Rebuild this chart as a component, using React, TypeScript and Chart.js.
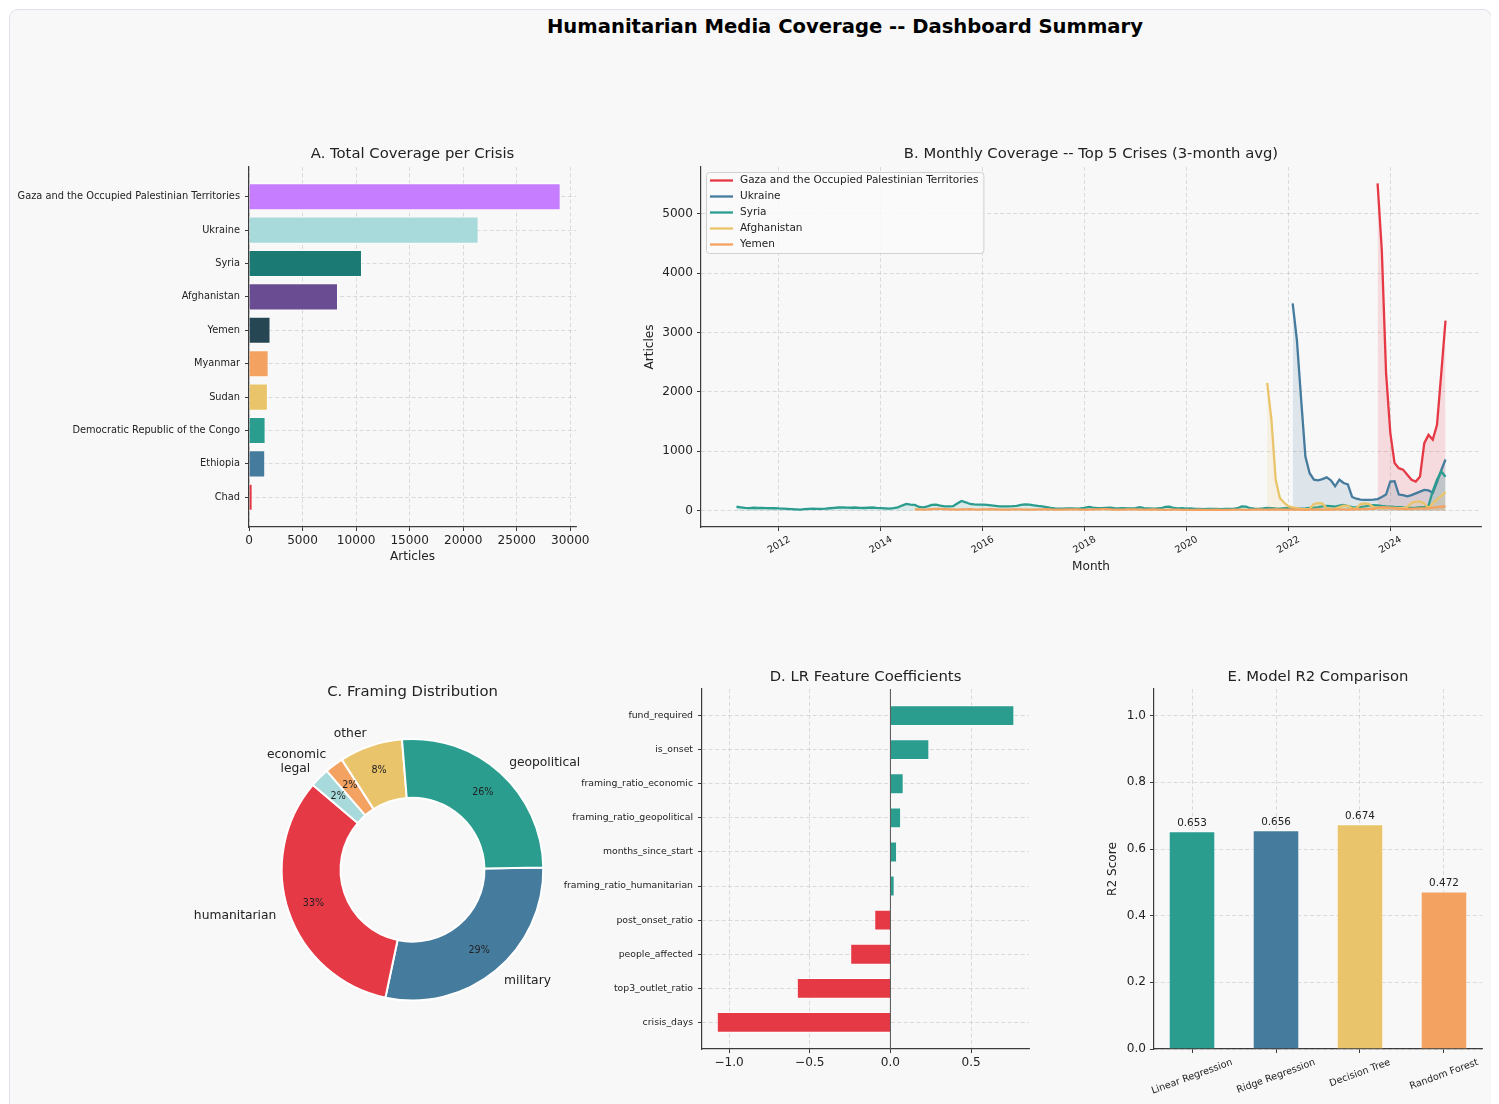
import React, { useEffect, useRef } from "react";
import { Chart, registerables } from "chart.js";

Chart.register(...registerables);

const FONT = "'DejaVu Sans', 'Liberation Sans', sans-serif";
const SPINE = "#3c3c3c";
const GRID = "rgba(165,165,165,0.45)";
const TXT = "#222222";
const BG = "#f8f8f8";

Chart.defaults.font.family = FONT;
Chart.defaults.color = TXT;

// ---------------- Panel A: total coverage per crisis ----------------
const crisisNames = [
  "Gaza and the Occupied Palestinian Territories",
  "Ukraine",
  "Syria",
  "Afghanistan",
  "Yemen",
  "Myanmar",
  "Sudan",
  "Democratic Republic of the Congo",
  "Ethiopia",
  "Chad",
];
const crisisTotals = [29080, 21420, 10530, 8290, 1990, 1815, 1745, 1530, 1495, 320];
const crisisColors = [
  "#c77dff", "#a8dadc", "#1b7a73", "#6a4c93", "#264653",
  "#f4a261", "#e9c46a", "#2a9d8f", "#457b9d", "#e63946",
];
const coverageTicks = [0, 5000, 10000, 15000, 20000, 25000, 30000];

// ---------------- Panel B: monthly coverage (3-month avg) ----------------
const seriesNames = ["Gaza and the Occupied Palestinian Territories", "Ukraine", "Syria", "Afghanistan", "Yemen"];
const seriesColors = ["#e63946", "#457b9d", "#2a9d8f", "#e9c46a", "#f4a261"];
const seriesFills = [
  "rgba(230,57,70,0.15)", "rgba(69,123,157,0.15)", "rgba(42,157,143,0.15)",
  "rgba(233,196,106,0.15)", "rgba(244,162,97,0.15)",
];
// first month of each series: [year, month]
const seriesStarts: [number, number][] = [[2023, 10], [2022, 2], [2011, 3], [2021, 8], [2014, 9]];
const gazaMonthly = [5510, 4380, 2320, 1310, 800, 715, 690, 605, 520, 490, 575, 1135, 1275, 1195, 1445, 2310, 3200];
const ukraineMonthly = [
  3490, 2870, 1870, 910, 630, 520, 510, 530, 560, 510, 410,
  520, 465, 440, 230, 200, 185, 180, 180, 185, 195, 230, 270,
  490, 495, 270, 260, 240, 260, 290, 320, 350, 340, 300, 480,
  680, 860,
];
const syriaMonthly = [
  65, 55, 45, 42, 48, 44, 46, 42, 40, 43,
  36, 34, 30, 26, 22, 18, 24, 30, 34, 30, 28, 32,
  40, 46, 52, 56, 50, 48, 52, 46, 44, 48, 52, 46,
  42, 38, 34, 40, 55, 85, 112, 100, 95, 62, 55, 70,
  95, 100, 85, 73, 70, 75, 120, 163, 140, 112, 105, 100,
  100, 95, 88, 80, 73, 70, 73, 75, 80, 95, 106, 100,
  90, 80, 73, 60, 45, 38, 34, 34, 36, 38, 34, 36,
  45, 62, 50, 42, 40, 44, 48, 40, 38, 42, 38, 36,
  40, 58, 42, 38, 34, 36, 40, 62, 66, 44, 38, 40,
  34, 36, 30, 28, 26, 28, 30, 28, 26, 30, 28, 30,
  40, 72, 66, 40, 34, 30, 36, 44, 40, 36, 34, 42,
  46, 40, 36, 34, 38, 46, 52, 60, 72, 80, 74, 66,
  84, 96, 76, 60, 54, 62, 72, 84, 92, 86, 78, 72,
  68, 62, 58, 54, 50, 46, 52, 60, 62, 80, 330, 520,
  660, 570,
];
const afghanistanMonthly = [
  2150, 1530, 520, 210, 130,
  75, 55, 40, 30, 25, 30, 110, 125, 120, 40, 30, 35,
  60, 85, 80, 35, 40, 110, 120, 110, 60, 50, 40, 45,
  50, 45, 40, 45, 60, 130, 150, 150, 120, 45, 120, 190,
  250, 310,
];
const yemenMonthly = [
  20, 22, 18, 20,
  25, 28, 30, 26, 22, 20, 18, 20, 22, 24, 20, 18,
  20, 22, 24, 22, 18, 16, 18, 20, 22, 20, 18, 16,
  18, 20, 22, 24, 20, 18, 16, 18, 20, 22, 20, 18,
  16, 18, 20, 22, 24, 26, 22, 18, 16, 18, 20, 22,
  20, 18, 16, 18, 20, 18, 16, 14, 16, 18, 16, 14,
  14, 12, 14, 16, 14, 12, 14, 16, 14, 12, 14, 16,
  18, 16, 14, 16, 18, 20, 18, 16, 18, 20, 18, 16,
  18, 20, 18, 16, 14, 16, 18, 20, 18, 16, 18, 20,
  22, 20, 18, 20, 22, 24, 26, 28, 30, 45, 60, 55,
  45, 38, 32, 28, 26, 30, 34, 38, 36, 40, 50, 60,
  65, 70,
];
const seriesValues = [gazaMonthly, ukraineMonthly, syriaMonthly, afghanistanMonthly, yemenMonthly];
const yearTicks = [2012, 2014, 2016, 2018, 2020, 2022, 2024];
const monthlyTicks = [0, 1000, 2000, 3000, 4000, 5000];

// ---------------- Panel C: framing distribution ----------------
const framingLabels = ["military", "humanitarian", "legal", "economic", "other", "geopolitical"];
const framingShares = [28.6, 32.9, 2.4, 2.3, 7.8, 26.0];
const framingColors = ["#457b9d", "#e63946", "#a8dadc", "#f4a261", "#e9c46a", "#2a9d8f"];

// ---------------- Panel D: LR feature coefficients ----------------
const featureNames = [
  "fund_required", "is_onset", "framing_ratio_economic", "framing_ratio_geopolitical",
  "months_since_start", "framing_ratio_humanitarian", "post_onset_ratio", "people_affected",
  "top3_outlet_ratio", "crisis_days",
];
const featureCoefs = [0.767, 0.240, 0.081, 0.065, 0.040, 0.025, -0.099, -0.248, -0.579, -1.075];
const coefTicks = [-1.0, -0.5, 0.0, 0.5];

// ---------------- Panel E: model R2 ----------------
const modelNames = ["Linear Regression", "Ridge Regression", "Decision Tree", "Random Forest"];
const modelR2 = [0.653, 0.656, 0.674, 0.472];
const modelColors = ["#2a9d8f", "#457b9d", "#e9c46a", "#f4a261"];
const r2Ticks = [0, 0.2, 0.4, 0.6, 0.8, 1.0];

// font sizes
const F_TITLE = 14.8;
const F_MAIN = 19.6;
const F_TICK = 12.1;
const F_AXIS = 12.1;
const F_SMALL = 9.3;

// ---------------- helpers ----------------
function fnt(size: number, weight = "normal") {
  return `${weight} ${size}px ${FONT}`;
}

function drawText(ctx: CanvasRenderingContext2D, s: string, x: number, y: number, size: number, o: any = {}) {
  ctx.save();
  ctx.font = fnt(size, o.weight || "normal");
  ctx.fillStyle = o.color || TXT;
  ctx.textAlign = o.align || "center";
  ctx.textBaseline = o.baseline || "middle";
  ctx.translate(x, y);
  if (o.rot) ctx.rotate((o.rot * Math.PI) / 180);
  ctx.fillText(s, 0, 0);
  ctx.restore();
}

function rotatedTickLabels(ctx: CanvasRenderingContext2D, labels: string[], xs: number[], top: number, size: number, deg: number) {
  ctx.save();
  ctx.font = fnt(size);
  const rad = (deg * Math.PI) / 180;
  labels.forEach((s, i) => {
    const w = ctx.measureText(s).width;
    const h = size * 1.15;
    const bh = w * Math.sin(rad) + h * Math.cos(rad);
    drawText(ctx, s, xs[i], top + bh / 2, size, { rot: -deg });
  });
  ctx.restore();
}

function axis(o: any) {
  return {
    type: "linear",
    min: o.min,
    max: o.max,
    reverse: !!o.reverse,
    offset: false,
    bounds: "data",
    border: { display: true, color: SPINE, width: 1.2, dash: [4, 2.5] },
    grid: {
      display: true,
      drawOnChartArea: o.grid !== false,
      color: GRID,
      lineWidth: 0.8,
      offset: false,
      drawTicks: true,
      tickLength: 4,
      tickColor: SPINE,
      tickWidth: 1,
      tickBorderDash: [],
    },
    ticks: {
      display: o.show !== false,
      color: TXT,
      padding: o.pad ?? 4,
      autoSkip: false,
      maxRotation: 0,
      minRotation: 0,
      font: { family: FONT, size: o.size ?? F_TICK },
      callback: (v: any) => (o.fmt ? o.fmt(v) : String(v)),
    },
    afterBuildTicks: (s: any) => {
      s.ticks = o.ticks.map((v: number) => ({ value: v }));
    },
    afterFit: (s: any) => {
      if (o.width != null) s.width = o.width;
      if (o.height != null) s.height = o.height;
    },
  };
}

const baseOpts = {
  responsive: false,
  animation: false as const,
  events: [] as any[],
};
const noPlugins = { legend: { display: false }, tooltip: { enabled: false }, title: { display: false } };

function fmtMinus(v: number) {
  const s = Math.abs(v).toFixed(1);
  return v < 0 ? "\u2212" + s : s;
}

// ---------------- configs ----------------
function cfgA(): any {
  return {
    type: "bar",
    data: {
      datasets: [
        {
          data: crisisTotals.map((v, i) => ({ x: v, y: i })),
          backgroundColor: crisisColors,
          borderColor: "rgba(255,255,255,0.85)",
          borderWidth: 0.8,
          categoryPercentage: 1,
          barPercentage: 0.8,
        },
      ],
    },
    options: {
      ...baseOpts,
      indexAxis: "y",
      layout: { padding: { left: 0, top: 47, right: 24, bottom: 0 } },
      plugins: noPlugins,
      scales: {
        x: axis({ min: 0, max: 30530, ticks: coverageTicks, height: 63, pad: 3 }),
        y: axis({
          min: -0.89, max: 9.89, reverse: true, ticks: crisisNames.map((_, i) => i),
          fmt: (v: number) => crisisNames[v] ?? "", size: 9.8, width: 239, pad: 5,
        }),
      },
    },
    plugins: [
      {
        id: "textA",
        afterDraw(chart: any) {
          const { ctx, chartArea: a } = chart;
          const cx = (a.left + a.right) / 2;
          drawText(ctx, "A. Total Coverage per Crisis", cx, a.top - 13, F_TITLE);
          drawText(ctx, "Articles", cx, a.bottom + 30, F_AXIS);
        },
      },
    ],
  };
}

function cfgB(): any {
  const datasets = seriesNames.map((name, k) => {
    const [y0, m0] = seriesStarts[k];
    return {
      label: name,
      data: seriesValues[k].map((v, i) => ({ x: y0 + (m0 - 1 + i) / 12, y: v })),
      borderColor: seriesColors[k],
      backgroundColor: seriesFills[k],
      borderWidth: 2.3,
      pointRadius: 0,
      tension: 0,
      fill: "origin",
      order: seriesNames.length - k,
    };
  });
  return {
    type: "line",
    data: { datasets },
    options: {
      ...baseOpts,
      layout: { padding: { left: 0, top: 47, right: 9, bottom: 0 } },
      plugins: { ...noPlugins, filler: { propagate: false } },
      scales: {
        x: axis({ min: 2010.47, max: 2025.78, ticks: yearTicks, height: 63, show: false }),
        y: axis({ min: -276, max: 5786, ticks: monthlyTicks, width: 81 }),
      },
    },
    plugins: [
      {
        id: "textB",
        afterDraw(chart: any) {
          const { ctx, chartArea: a, scales } = chart;
          const cx = (a.left + a.right) / 2;
          const cy = (a.top + a.bottom) / 2;
          drawText(ctx, "B. Monthly Coverage -- Top 5 Crises (3-month avg)", cx, a.top - 13, F_TITLE);
          drawText(ctx, "Month", cx, a.bottom + 40, F_AXIS);
          drawText(ctx, "Articles", a.left - 51, cy, F_AXIS, { rot: -90 });
          rotatedTickLabels(
            ctx, yearTicks.map(String), yearTicks.map((t) => scales.x.getPixelForValue(t)),
            a.bottom + 7, 9.6, 30,
          );
          // legend
          const lx = a.left + 5;
          const ly = a.top + 5;
          const lf = 10.5;
          ctx.save();
          ctx.font = fnt(lf);
          let maxW = 0;
          seriesNames.forEach((s) => (maxW = Math.max(maxW, ctx.measureText(s).width)));
          const bw = 34 + maxW + 5;
          const bh = seriesNames.length * 16 + 1;
          ctx.beginPath();
          (ctx as any).roundRect(lx + 0.5, ly + 0.5, bw, bh, 3);
          ctx.fillStyle = "rgba(250,250,250,0.85)";
          ctx.fill();
          ctx.strokeStyle = "#d0d0d0";
          ctx.lineWidth = 1;
          ctx.stroke();
          seriesNames.forEach((s, i) => {
            const yy = ly + 8.5 + i * 16;
            ctx.beginPath();
            ctx.moveTo(lx + 4, yy);
            ctx.lineTo(lx + 27, yy);
            ctx.strokeStyle = seriesColors[i];
            ctx.lineWidth = 2.3;
            ctx.stroke();
            drawText(ctx, s, lx + 34, yy, lf, { align: "left" });
          });
          ctx.restore();
        },
      },
    ],
  };
}

function cfgC(): any {
  return {
    type: "doughnut",
    data: {
      labels: framingLabels,
      datasets: [
        {
          data: framingShares,
          backgroundColor: framingColors,
          borderColor: "#ffffff",
          borderWidth: 2,
        },
      ],
    },
    options: {
      ...baseOpts,
      rotation: 89,
      cutout: "55%",
      radius: 130.8,
      layout: { padding: { left: 150, right: 25, top: 80, bottom: 60.6 } },
      plugins: noPlugins,
    },
    plugins: [
      {
        id: "textC",
        afterDraw(chart: any) {
          const { ctx } = chart;
          const meta = chart.getDatasetMeta(0);
          const total = framingShares.reduce((s, v) => s + v, 0);
          let cx0 = 0;
          let cy0 = 0;
          let r0 = 0;
          meta.data.forEach((arc: any, i: number) => {
            const { x, y, startAngle, endAngle, outerRadius } = arc;
            cx0 = x; cy0 = y; r0 = outerRadius;
            const mid = (startAngle + endAngle) / 2;
            const c = Math.cos(mid);
            const s = Math.sin(mid);
            drawText(ctx, framingLabels[i], x + outerRadius * 1.1 * c, y + outerRadius * 1.1 * s, 12.3, {
              align: c >= 0 ? "left" : "right",
            });
            drawText(
              ctx, Math.round((framingShares[i] / total) * 100) + "%",
              x + outerRadius * 0.8 * c, y + outerRadius * 0.8 * s, 9.6,
            );
          });
          drawText(ctx, "C. Framing Distribution", cx0, cy0 - r0 - 46.7, F_TITLE);
        },
      },
    ],
  };
}

function cfgD(): any {
  return {
    type: "bar",
    data: {
      datasets: [
        {
          data: featureCoefs.map((v, i) => ({ x: v, y: i })),
          backgroundColor: featureCoefs.map((v) => (v >= 0 ? "#2a9d8f" : "#e63946")),
          borderColor: "rgba(255,255,255,0.8)",
          borderWidth: 0.8,
          categoryPercentage: 1,
          barPercentage: 0.6,
        },
      ],
    },
    options: {
      ...baseOpts,
      indexAxis: "y",
      layout: { padding: { left: 0, top: 49, right: 11, bottom: 0 } },
      plugins: noPlugins,
      scales: {
        x: axis({ min: -1.168, max: 0.859, ticks: coefTicks, fmt: fmtMinus, height: 41, pad: 3 }),
        y: axis({
          min: -0.78, max: 9.78, reverse: true, ticks: featureNames.map((_, i) => i),
          fmt: (v: number) => featureNames[v] ?? "", size: F_SMALL, width: 162, pad: 5,
        }),
      },
    },
    plugins: [
      {
        id: "textD",
        afterDatasetsDraw(chart: any) {
          const { ctx, chartArea: a, scales } = chart;
          const x0 = scales.x.getPixelForValue(0);
          ctx.save();
          ctx.strokeStyle = "#555555";
          ctx.lineWidth = 1;
          ctx.beginPath();
          ctx.moveTo(x0, a.top);
          ctx.lineTo(x0, a.bottom);
          ctx.stroke();
          ctx.restore();
        },
        afterDraw(chart: any) {
          const { ctx, chartArea: a } = chart;
          drawText(ctx, "D. LR Feature Coefficients", (a.left + a.right) / 2, a.top - 12, F_TITLE);
        },
      },
    ],
  };
}

function cfgE(): any {
  return {
    type: "bar",
    data: {
      datasets: [
        {
          data: modelR2.map((v, i) => ({ x: i, y: v })),
          backgroundColor: modelColors,
          borderColor: "rgba(255,255,255,0.8)",
          borderWidth: 0.8,
          categoryPercentage: 1,
          barPercentage: 0.55,
        },
      ],
    },
    options: {
      ...baseOpts,
      layout: { padding: { left: 0, top: 49, right: 13, bottom: 0 } },
      plugins: noPlugins,
      scales: {
        x: axis({ min: -0.4525, max: 3.4525, ticks: modelNames.map((_, i) => i), height: 51, show: false }),
        y: axis({ min: 0, max: 1.08, ticks: r2Ticks, fmt: (v: number) => v.toFixed(1), width: 104 }),
      },
    },
    plugins: [
      {
        id: "textE",
        afterDraw(chart: any) {
          const { ctx, chartArea: a, scales } = chart;
          const cx = (a.left + a.right) / 2;
          const cy = (a.top + a.bottom) / 2;
          drawText(ctx, "E. Model R2 Comparison", cx, a.top - 12, F_TITLE);
          drawText(ctx, "R2 Score", a.left - 41, cy, F_AXIS, { rot: -90 });
          modelR2.forEach((v, i) => {
            drawText(ctx, v.toFixed(3), scales.x.getPixelForValue(i), scales.y.getPixelForValue(v + 0.01), 10.4, {
              baseline: "bottom",
            });
          });
          rotatedTickLabels(
            ctx, modelNames, modelNames.map((_, i) => scales.x.getPixelForValue(i)),
            a.bottom + 8, 9.6, 20,
          );
        },
      },
    ],
  };
}

export default function App() {
  const refA = useRef<HTMLCanvasElement>(null);
  const refB = useRef<HTMLCanvasElement>(null);
  const refC = useRef<HTMLCanvasElement>(null);
  const refD = useRef<HTMLCanvasElement>(null);
  const refE = useRef<HTMLCanvasElement>(null);

  useEffect(() => {
    document.documentElement.style.overflow = "hidden";
    document.body.style.overflow = "hidden";
    const charts = [
      new Chart(refA.current as HTMLCanvasElement, cfgA()),
      new Chart(refB.current as HTMLCanvasElement, cfgB()),
      new Chart(refC.current as HTMLCanvasElement, cfgC()),
      new Chart(refD.current as HTMLCanvasElement, cfgD()),
      new Chart(refE.current as HTMLCanvasElement, cfgE()),
    ];
    return () => charts.forEach((c) => c.destroy());
  }, []);

  const abs = (left: number, top: number): React.CSSProperties => ({ position: "absolute", left, top, display: "block" });

  return (
    <div style={{ position: "relative", width: 1483, height: 1096, overflow: "hidden" }}>
      <div
        style={{
          position: "absolute", left: 1, top: 1, width: 1483, height: 1120,
          border: "1.5px solid #dde2ec", borderRadius: 9, background: BG, boxSizing: "border-box",
        }}
      />
      <div
        style={{
          position: "absolute", left: 845 - 8 - 500, top: 7, width: 1000, textAlign: "center",
          font: `bold ${F_MAIN}px ${FONT}`, lineHeight: "24px", color: "#000",
        }}
      >
        Humanitarian Media Coverage -- Dashboard Summary
      </div>
      <canvas ref={refA} width={590} height={470} style={abs(2, 112)} />
      <canvas ref={refB} width={870} height={470} style={abs(612, 112)} />
      <canvas ref={refC} width={500} height={440} style={abs(92, 632)} />
      <canvas ref={refD} width={500} height={450} style={abs(532, 632)} />
      <canvas ref={refE} width={445} height={460} style={abs(1042, 632)} />
    </div>
  );
}
